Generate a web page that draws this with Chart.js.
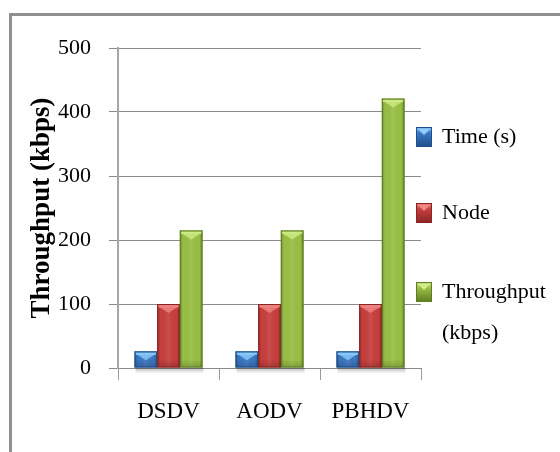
<!DOCTYPE html>
<html>
<head>
<meta charset="utf-8">
<script src="https://cdn.jsdelivr.net/npm/chart.js@4.4.1/dist/chart.umd.min.js"></script>
<style>
  html, body { margin: 0; padding: 0; background: #ffffff; }
  #wrap { width: 560px; height: 452px; position: relative; }
</style>
</head>
<body>
<div id="wrap"><canvas id="c" width="560" height="452"></canvas></div>
<script>
const categories = ['DSDV', 'AODV', 'PBHDV'];
const seriesLabels = ['Time (s)', 'Node', 'Throughput (kbps)'];
const timeValues = [26, 26, 26];
const nodeValues = [100, 100, 100];
const throughputValues = [215, 215, 421];
const yTickValues = [0, 100, 200, 300, 400, 500];
const yTitle = 'Throughput (kbps)';

const palette = [
  { base: '#3b77c2', dark: '#1f4f8a', light: '#8fd0ff' },
  { base: '#c63f3d', dark: '#8a2524', light: '#f08a86' },
  { base: '#98bf45', dark: '#5f7d22', light: '#d2ee8a' }
];

const FONT = '"Liberation Serif", "Times New Roman", serif';

const framePlugin = {
  id: 'frame',
  beforeDraw(chart) {
    const ctx = chart.ctx;
    ctx.save();
    ctx.fillStyle = '#ffffff';
    ctx.fillRect(0, 0, chart.width, chart.height);
    ctx.strokeStyle = '#8f8f8f';
    ctx.lineWidth = 3;
    ctx.beginPath();
    ctx.moveTo(10.5, chart.height + 10);
    ctx.lineTo(10.5, 14.5);
    ctx.lineTo(chart.width + 10, 14.5);
    ctx.stroke();
    ctx.restore();
  }
};

const barStylePlugin = {
  id: 'barStyle',
  beforeDatasetsDraw(chart) {
    // soft shadow under each group
    const ctx = chart.ctx;
    ctx.save();
    chart.data.datasets.forEach((ds, i) => {
      const meta = chart.getDatasetMeta(i);
      meta.data.forEach(bar => {
        const p = bar.getProps(['x', 'base', 'width'], true);
        const l = p.x - p.width / 2, top = p.base;
        const g = ctx.createLinearGradient(0, top, 0, top + 6);
        g.addColorStop(0, 'rgba(0,0,0,0.28)');
        g.addColorStop(1, 'rgba(0,0,0,0)');
        ctx.fillStyle = g;
        ctx.fillRect(l + 1, top, p.width, 6);
      });
    });
    ctx.restore();
  },
  afterDatasetsDraw(chart) {
    const ctx = chart.ctx;
    ctx.save();
    chart.data.datasets.forEach((ds, i) => {
      const meta = chart.getDatasetMeta(i);
      const col = palette[i];
      meta.data.forEach(bar => {
        const p = bar.getProps(['x', 'y', 'base', 'width'], true);
        const l = p.x - p.width / 2, r = p.x + p.width / 2;
        const t = p.y, b = p.base, w = p.width, h = b - t;
        // edge shading
        const g = ctx.createLinearGradient(l, 0, r, 0);
        g.addColorStop(0, 'rgba(0,0,0,0.28)');
        g.addColorStop(0.14, 'rgba(0,0,0,0)');
        g.addColorStop(0.5, 'rgba(255,255,255,0.08)');
        g.addColorStop(0.86, 'rgba(0,0,0,0)');
        g.addColorStop(1, 'rgba(0,0,0,0.32)');
        ctx.fillStyle = g;
        ctx.fillRect(l, t, w, h);
        // bottom darker band
        const gb = ctx.createLinearGradient(0, b - 8, 0, b);
        gb.addColorStop(0, 'rgba(0,0,0,0)');
        gb.addColorStop(1, 'rgba(0,0,0,0.18)');
        ctx.fillStyle = gb;
        ctx.fillRect(l, Math.max(t, b - 8), w, Math.min(8, h));
        // top bevel
        ctx.fillStyle = col.light;
        ctx.globalAlpha = 0.9;
        ctx.fillRect(l + 1, t + 1, w - 2, 2.5);
        ctx.beginPath();
        ctx.moveTo(l + 2, t + 3);
        ctx.lineTo(r - 2, t + 3);
        ctx.lineTo(p.x, t + Math.min(9, h - 1));
        ctx.closePath();
        ctx.globalAlpha = 0.75;
        ctx.fill();
        ctx.globalAlpha = 1;
        // outline
        ctx.strokeStyle = col.dark;
        ctx.lineWidth = 1;
        ctx.strokeRect(l + 0.5, t + 0.5, w - 1, h - 1);
      });
    });
    ctx.restore();
  }
};

const legendPlugin = {
  id: 'customLegend',
  afterDraw(chart) {
    const ctx = chart.ctx;
    ctx.save();
    ctx.font = '22px ' + FONT;
    ctx.textBaseline = 'middle';
    ctx.fillStyle = '#000';
    const boxX = 416, boxW = 16, boxH = 20, textX = 442, maxW = 112;
    const centers = [137, 213, 292];
    chart.data.datasets.forEach((ds, i) => {
      const cy = centers[i];
      const col = palette[i];
      const bx = boxX, by = cy - boxH / 2;
      const g = ctx.createLinearGradient(0, by, 0, by + boxH);
      g.addColorStop(0, col.light);
      g.addColorStop(0.3, col.base);
      g.addColorStop(1, col.dark);
      ctx.fillStyle = g;
      ctx.fillRect(bx, by, boxW, boxH);
      ctx.fillStyle = col.light;
      ctx.beginPath();
      ctx.moveTo(bx + 2, by + 2);
      ctx.lineTo(bx + boxW - 2, by + 2);
      ctx.lineTo(bx + boxW / 2, by + 8);
      ctx.closePath();
      ctx.fill();
      ctx.strokeStyle = col.dark;
      ctx.lineWidth = 1;
      ctx.strokeRect(bx + 0.5, by + 0.5, boxW - 1, boxH - 1);
      // wrap text
      const words = ds.label.split(' ');
      const lines = [];
      let cur = '';
      words.forEach(wd => {
        const test = cur ? cur + ' ' + wd : wd;
        if (cur && ctx.measureText(test).width > maxW) { lines.push(cur); cur = wd; }
        else cur = test;
      });
      if (cur) lines.push(cur);
      ctx.fillStyle = '#000';
      lines.forEach((ln, k) => ctx.fillText(ln, textX, cy + k * 41));
    });
    ctx.restore();
  }
};

const datasets = [timeValues, nodeValues, throughputValues].map((vals, i) => ({
  label: seriesLabels[i],
  data: vals,
  backgroundColor: palette[i].base,
  borderWidth: 0,
  categoryPercentage: 0.673,
  barPercentage: 1.0
}));

new Chart(document.getElementById('c'), {
  type: 'bar',
  data: { labels: categories, datasets },
  plugins: [framePlugin, barStylePlugin, legendPlugin],
  options: {
    responsive: false,
    animation: false,
    devicePixelRatio: 1,
    layout: { padding: { left: 0, top: 48, right: 139, bottom: 0 } },
    plugins: { legend: { display: false }, tooltip: { enabled: false } },
    scales: {
      x: {
        afterFit(scale) { scale.height = 84; },
        grid: {
          display: true, offset: true, drawOnChartArea: false,
          drawTicks: true, tickLength: 12, color: '#9a9a9a', lineWidth: 1
        },
        border: { display: true, color: '#8a8a8a', width: 1 },
        ticks: { color: '#000', padding: 18, font: { family: FONT, size: 23 } }
      },
      y: {
        min: 0, max: 500,
        afterFit(scale) { scale.width = 118; },
        afterBuildTicks(scale) { scale.ticks = yTickValues.map(v => ({ value: v })); },
        grid: { color: '#8a8a8a', lineWidth: 1, tickLength: 9, drawTicks: true },
        border: { display: true, color: '#a6a6a6', width: 2 },
        ticks: { color: '#000', padding: 18, font: { family: FONT, size: 22 } },
        title: {
          display: true, text: yTitle, color: '#000',
          padding: { top: 26, bottom: 0 },
          font: { family: FONT, size: 27, weight: 'bold' }
        }
      }
    }
  }
});
</script>
</body>
</html>
